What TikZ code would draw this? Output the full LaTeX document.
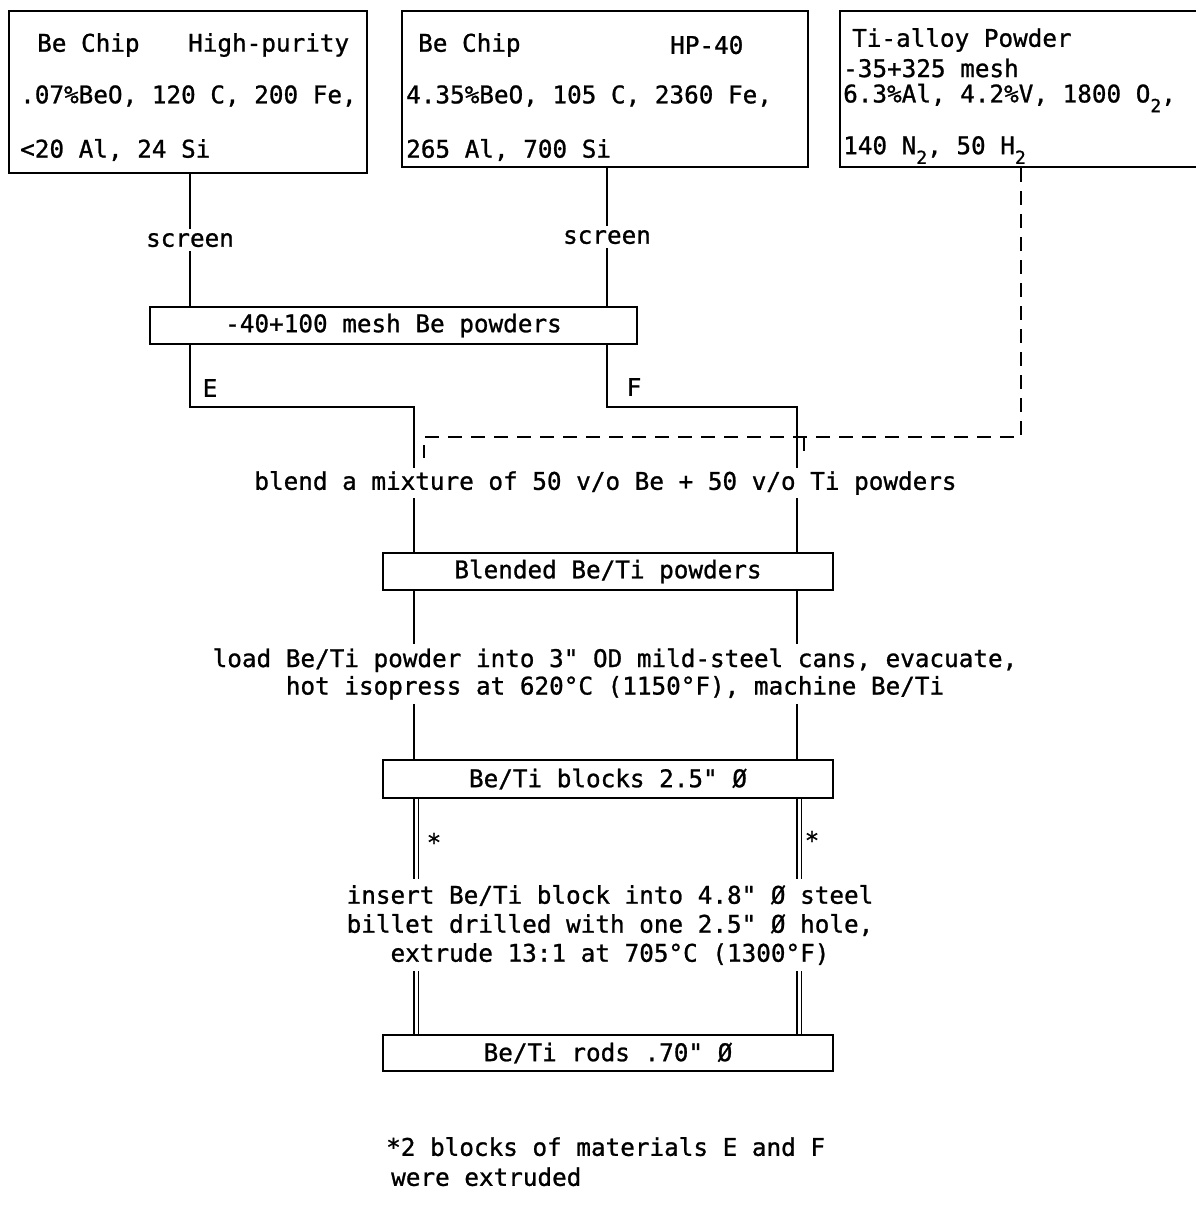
\documentclass[tikz,border=0pt]{standalone}
\usepackage{fontspec}
\newfontfamily\tw[FakeBold=1]{DejaVu Sans Mono}
\newcommand\lowsub[1]{\raisebox{-0.4em}{\fontsize{18}{18}\selectfont #1}}
\begin{document}
\begin{tikzpicture}[x=1pt,y=-1pt,
  box/.style={draw, line width=2.4pt, inner sep=0pt, font=\tw\fontsize{24.3}{29}\selectfont},
  txt/.style={inner sep=0pt, font=\tw\fontsize{24.3}{29}\selectfont},
  conn/.style={line width=2.4pt},
  dconn/.style={double, line width=1.8pt, double distance=3pt},
  dashline/.style={line width=2.4pt, dash pattern=on 14pt off 9pt}]
\fill[white] (0,0) rectangle (1196,1205);
\clip (0,0) rectangle (1196,1205);

% source boxes
\node[box, minimum width=358pt, minimum height=162pt, anchor=north west] (b1) at (8,10) {};
\node[box, minimum width=406pt, minimum height=156pt, anchor=north west] (b2) at (401,10) {};
\node[box, minimum width=380pt, minimum height=156pt, anchor=north west] (b3) at (839,10) {};

\node[txt, anchor=west] (t11) at (37,45) {Be Chip};
\node[txt, anchor=west] (t12) at (188,45) {High-purity};
\node[txt, anchor=west] (t13) at (20,96) {.07\%BeO, 120 C, 200 Fe,};
\node[txt, anchor=west] (t14) at (20,150) {<20 Al, 24 Si};
\node[txt, anchor=west] (t21) at (418,45) {Be Chip};
\node[txt, anchor=west] (t22) at (670,45) {HP-40};
\node[txt, anchor=west] (t23) at (406,96) {4.35\%BeO, 105 C, 2360 Fe,};
\node[txt, anchor=west] (t24) at (406,150) {265 Al, 700 Si};
\node[txt, anchor=west] (t31) at (852,40) {Ti-alloy Powder};
\node[txt, anchor=west] (t32) at (843,68) {-35+325 mesh};
\node[txt, anchor=west] (t33) at (843,98) {6.3\%Al, 4.2\%V, 1800 O\lowsub{2},};
\node[txt, anchor=west] (t34) at (843,150) {140 N\lowsub{2}, 50 H\lowsub{2}};

% process boxes and texts
\node[box, minimum width=487pt, minimum height=37pt] (m1) at (393.5,325.5) {-40+100 mesh Be powders};
\node[txt, inner ysep=3pt] (blend) at (605.5,483) {blend a mixture of 50 v/o Be + 50 v/o Ti powders};
\node[box, minimum width=450pt, minimum height=37pt] (b5) at (608,571.5) {Blended Be/Ti powders};
\node[txt, align=center, inner ysep=4pt, font=\tw\fontsize{24.3}{27.5}\selectfont] (load) at (615,674) {load Be/Ti powder into 3" OD mild-steel cans, evacuate,\\hot isopress at 620°C (1150°F), machine Be/Ti};
\node[box, minimum width=450pt, minimum height=38pt] (b6) at (608,779) {Be/Ti blocks 2.5" Ø};
\node[txt, align=center, inner ysep=6pt] (ins) at (610,925) {insert Be/Ti block into 4.8" Ø steel\\billet drilled with one 2.5" Ø hole,\\extrude 13:1 at 705°C (1300°F)};
\node[box, minimum width=450pt, minimum height=36pt] (b7) at (608,1053) {Be/Ti rods .70" Ø};
\node[txt, align=left, anchor=north west, font=\tw\fontsize{24.3}{30}\selectfont] (foot) at (386,1137) {*2 blocks of materials E and F\\\hspace*{5pt}were extruded};

% column coordinates
\coordinate (xE) at (190,0);
\coordinate (xF) at (607,0);
\coordinate (e1) at (414,407);
\coordinate (f1) at (797,407);
\coordinate (gE) at (416,0);
\coordinate (gF) at (799,0);

% screen lines
\draw[conn] (b1.south -| xE) -- node[txt, fill=white, inner sep=4pt] (s1) {screen} (m1.north -| xE);
\draw[conn] (b2.south -| xF) -- node[txt, fill=white, inner sep=4pt] (s2) {screen} (m1.north -| xF);

\node[txt] (lE) at (210,388) {E};
\node[txt] (lF) at (634,387) {F};

% E and F paths
\draw[conn] (m1.south -| xE) |- (e1) -- (blend.north -| e1);
\draw[conn] (m1.south -| xF) |- (f1) -- (blend.north -| f1);
\draw[conn] (blend.south -| e1) -- (b5.north -| e1);
\draw[conn] (blend.south -| f1) -- (b5.north -| f1);
\draw[conn] (b5.south -| e1) -- (load.north -| e1);
\draw[conn] (b5.south -| f1) -- (load.north -| f1);
\draw[conn] (load.south -| e1) -- (b6.north -| e1);
\draw[conn] (load.south -| f1) -- (b6.north -| f1);

% Ti powder dashed path
\coordinate (d0) at (1021,437);
\coordinate (d1) at (424,437);
\coordinate (d1e) at (424,458);
\coordinate (d2) at (804,437);
\coordinate (d2e) at (804,458);
\draw[dashline] (b3.south -| d0) |- (d1) -- (d1e);
\draw[dashline] (d2) -- (d2e);

% double lines (extrusion)
\draw[dconn] (b6.south -| gE) -- (ins.north -| gE);
\draw[dconn] (b6.south -| gF) -- (ins.north -| gF);
\draw[dconn] (ins.south -| gE) -- (b7.north -| gE);
\draw[dconn] (ins.south -| gF) -- (b7.north -| gF);
\node[txt] (st1) at (434,842) {*};
\node[txt] (st2) at (812,840) {*};
\end{tikzpicture}
\end{document}
